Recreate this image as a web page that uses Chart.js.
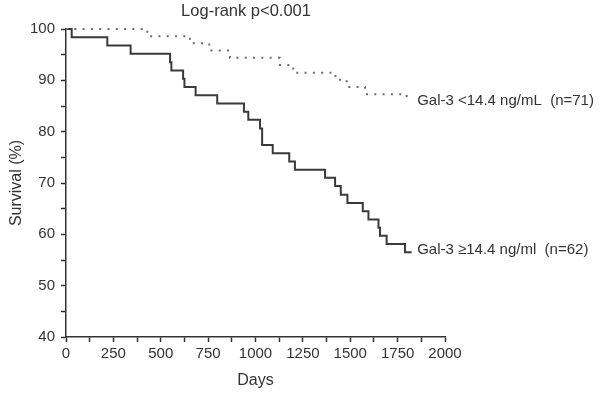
<!DOCTYPE html>
<html>
<head>
<meta charset="utf-8">
<script src="https://cdn.jsdelivr.net/npm/chart.js@4/dist/chart.umd.min.js"></script>
<style>
  html, body { margin: 0; padding: 0; background: #fff; }
  #wrap { width: 600px; height: 395px; position: relative; }
</style>
</head>
<body>
<div id="wrap"><canvas id="km"></canvas></div>
<script>
// Kaplan-Meier steps (day, survival %)
const lowDays = [0, 429, 654, 756, 865, 1129, 1199, 1422, 1481, 1578, 1798];
const lowSurv = [100, 98.6, 97.2, 95.8, 94.4, 93.0, 91.5, 90.1, 88.7, 87.3, 85.9];

const highDays = [0, 30, 218, 341, 549, 556, 618, 625, 684, 798, 939, 962, 1024, 1035, 1091,
                  1178, 1208, 1367, 1420, 1450, 1485, 1566, 1596, 1649, 1657, 1692, 1789, 1824];
const highSurv = [100, 98.4, 96.8, 95.2, 93.5, 91.9, 90.3, 88.7, 87.1, 85.5, 83.9, 82.3, 80.6, 77.4, 75.8,
                  74.2, 72.6, 71.0, 69.4, 67.7, 66.1, 64.5, 62.9, 61.3, 59.7, 58.1, 56.5, 56.5];

const groupLabels = ["Gal-3 <14.4 ng/mL  (n=71)", "Gal-3 \u226514.4 ng/ml  (n=62)"];
const pValueText = "Log-rank p<0.001";

const FONT = "'Liberation Sans', Arial, sans-serif";
const INK = "#333";

const toPoints = (xs, ys) => xs.map((x, i) => ({ x: x, y: ys[i] }));

// labels at the end of each curve + the log-rank text
const kmLabels = {
    id: "kmLabels",
    afterDraw(chart) {
        const { ctx, scales } = chart;
        const xs = scales.x, ys = scales.y;
        ctx.save();
        ctx.fillStyle = INK;
        ctx.font = `15px ${FONT}`;
        ctx.textBaseline = "middle";
        ctx.textAlign = "left";
        const lx = xs.getPixelForValue(1853);
        ctx.fillText(groupLabels[0], lx, ys.getPixelForValue(lowSurv[lowSurv.length - 1]) - 1);
        ctx.fillText(groupLabels[1], lx, ys.getPixelForValue(highSurv[highSurv.length - 1]) - 2);
        ctx.font = `16.5px ${FONT}`;
        ctx.textAlign = "center";
        ctx.fillText(pValueText, xs.getPixelForValue(950), 11);
        ctx.restore();
    }
};

new Chart(document.getElementById("km"), {
    type: "line",
    plugins: [kmLabels],
    data: {
        datasets: [
            {
                label: groupLabels[0],
                data: toPoints(lowDays, lowSurv),
                stepped: "before",
                borderColor: "#6e6e6e",
                borderWidth: 2,
                borderDash: [2, 6.3],
                pointRadius: 0,
                clip: false
            },
            {
                label: groupLabels[1],
                data: toPoints(highDays, highSurv),
                stepped: "before",
                borderColor: "#3a3a3a",
                borderWidth: 2,
                pointRadius: 0,
                clip: false
            }
        ]
    },
    options: {
        responsive: true,
        maintainAspectRatio: false,
        animation: false,
        layout: { padding: { left: 0, top: 29, right: 155, bottom: 0 } },
        plugins: {
            legend: { display: false },
            tooltip: { enabled: false }
        },
        scales: {
            x: {
                type: "linear",
                min: 0,
                max: 2000,
                afterFit(scale) { scale.height = 58; },
                border: { color: INK, width: 1.5 },
                grid: { drawOnChartArea: false, tickLength: 5, tickColor: INK, tickWidth: 1.5 },
                ticks: {
                    stepSize: 125,
                    autoSkip: false,
                    maxRotation: 0,
                    padding: 3,
                    color: INK,
                    font: { family: FONT, size: 15 },
                    callback: v => (v % 250 === 0 ? v : "")
                },
                title: {
                    display: true,
                    text: "Days",
                    color: INK,
                    font: { family: FONT, size: 16 },
                    padding: { top: 0, bottom: 5 }
                }
            },
            y: {
                min: 40,
                max: 100,
                afterFit(scale) { scale.width = 66; },
                border: { color: INK, width: 1.5 },
                grid: { drawOnChartArea: false, tickLength: 5, tickColor: INK, tickWidth: 1.5 },
                ticks: {
                    stepSize: 5,
                    autoSkip: false,
                    padding: 6,
                    color: INK,
                    font: { family: FONT, size: 15 },
                    callback: v => (v % 10 === 0 ? v : "")
                },
                title: {
                    display: true,
                    text: "Survival (%)",
                    color: INK,
                    font: { family: FONT, size: 16 },
                    padding: { top: 7, bottom: 0 }
                }
            }
        }
    }
});
</script>
</body>
</html>
